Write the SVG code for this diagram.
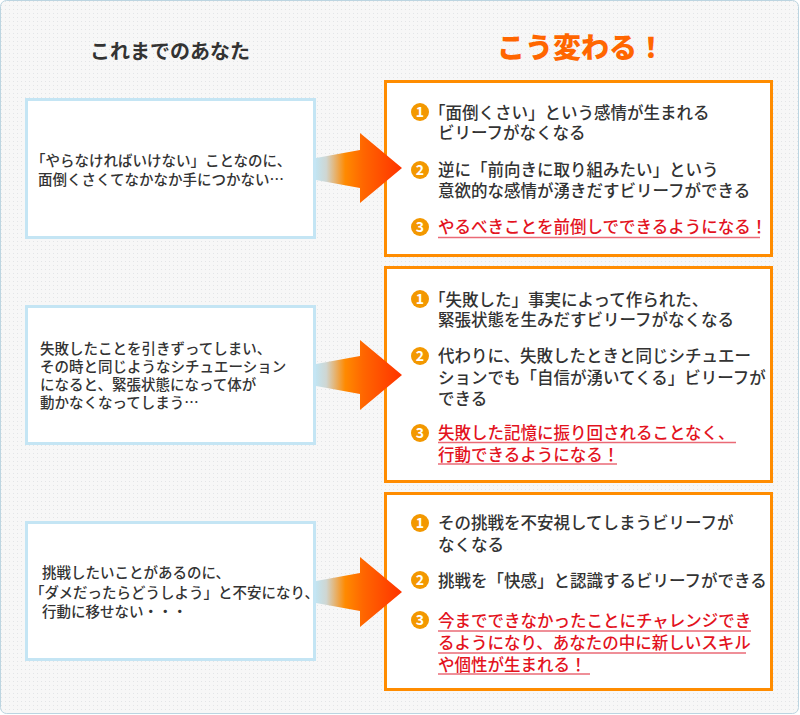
<svg xmlns="http://www.w3.org/2000/svg" width="800" height="715" viewBox="0 0 800 715">
<defs>
<pattern id="dots" width="4" height="4" patternUnits="userSpaceOnUse">
<rect width="4" height="4" fill="#f7f7f7"/>
<rect x="1" y="1" width="1" height="1" fill="#e3e5e7"/>
</pattern>
<linearGradient id="arrowGrad" gradientUnits="objectBoundingBox" x1="0" y1="0" x2="1" y2="0">
<stop offset="0" stop-color="#c2e4f1"/>
<stop offset="0.12" stop-color="#cfd6d2"/>
<stop offset="0.34" stop-color="#ff8a00"/>
<stop offset="0.55" stop-color="#ff6600"/>
<stop offset="1" stop-color="#ff3300"/>
</linearGradient>
</defs>
<style>
text{font-family:"Noto Sans CJK JP","Noto Sans",sans-serif;font-weight:500;}
.lbox{fill:#ffffff;stroke:#c4e5f4;stroke-width:3;}
.rbox{fill:#ffffff;stroke:#ff8c00;stroke-width:3;}
.lt{font-size:14.5px;fill:#333333;}
.rt{font-size:16.5px;fill:#333333;}
.red{font-size:16.5px;fill:#e3131e;}
.ul{stroke:#ea6a76;stroke-width:1.5;}
.num{fill:#f39800;}
.nt{font-size:14px;font-weight:bold;fill:#ffffff;text-anchor:middle;}
.arrow{fill:url(#arrowGrad);}
</style>

<rect x="0.5" y="0.5" width="798" height="713" rx="6" ry="6" fill="url(#dots)" stroke="#bcd5e1" stroke-width="1"/>

<g id="title-left">
<text x="170" y="59" text-anchor="middle" style="font-size:20px;font-weight:bold;fill:#333333;">これまでのあなた</text>
</g>
<g id="title-right">
<text x="581" y="58" text-anchor="middle" style="font-size:28px;font-weight:900;fill:#ff6600;">こう変わる！</text>
</g>

<g id="before-1">
<rect class="lbox" x="26.5" y="99.5" width="288" height="138"/>
<text class="lt" x="31" y="166">「やらなければいけない」ことなのに、</text>
<text class="lt" x="38" y="185">面倒くさくてなかなか手につかない…</text>
</g>

<g id="before-2">
<rect class="lbox" x="26.5" y="306.5" width="288" height="137"/>
<text class="lt" x="40" y="354">失敗したことを引きずってしまい、</text>
<text class="lt" x="40" y="372">その時と同じようなシチュエーション</text>
<text class="lt" x="40" y="390">になると、緊張状態になって体が</text>
<text class="lt" x="40" y="408">動かなくなってしまう…</text>
</g>

<g id="before-3">
<rect class="lbox" x="26.5" y="522.5" width="288" height="137"/>
<text class="lt" x="42" y="578">挑戦したいことがあるのに、</text>
<text class="lt" x="30" y="598">「ダメだったらどうしよう」と不安になり、</text>
<text class="lt" x="42" y="617">行動に移せない・・・</text>
</g>

<g id="after-1">
<rect class="rbox" x="385.5" y="81.5" width="386" height="174"/>
<circle class="num" cx="420" cy="112" r="9"/>
<text class="nt" x="420" y="117">1</text>
<text class="rt" x="429" y="119">「面倒くさい」という感情が生まれる</text>
<text class="rt" x="438" y="139">ビリーフがなくなる</text>
<circle class="num" cx="420" cy="170" r="9"/>
<text class="nt" x="420" y="175">2</text>
<text class="rt" x="438" y="176">逆に「前向きに取り組みたい」という</text>
<text class="rt" x="438" y="197">意欲的な感情が湧きだすビリーフができる</text>
<circle class="num" cx="420" cy="227" r="9"/>
<text class="nt" x="420" y="232">3</text>
<text class="red" x="438" y="233">やるべきことを前倒しでできるようになる！</text>
<line class="ul" x1="438" y1="237.5" x2="760" y2="237.5"/>
</g>

<g id="after-2">
<rect class="rbox" x="385.5" y="267.5" width="386" height="214"/>
<circle class="num" cx="420" cy="299" r="9"/>
<text class="nt" x="420" y="304">1</text>
<text class="rt" x="429" y="306">「失敗した」事実によって作られた、</text>
<text class="rt" x="438" y="326">緊張状態を生みだすビリーフがなくなる</text>
<circle class="num" cx="420" cy="356" r="9"/>
<text class="nt" x="420" y="361">2</text>
<text class="rt" x="438" y="362">代わりに、失敗したときと同じシチュエー</text>
<text class="rt" x="438" y="384">ションでも「自信が湧いてくる」ビリーフが</text>
<text class="rt" x="438" y="405">できる</text>
<circle class="num" cx="420" cy="433" r="9"/>
<text class="nt" x="420" y="438">3</text>
<text class="red" x="438" y="439">失敗した記憶に振り回されることなく、</text>
<line class="ul" x1="438" y1="442.5" x2="736" y2="442.5"/>
<text class="red" x="438" y="461">行動できるようになる！</text>
<line class="ul" x1="438" y1="464" x2="617" y2="464"/>
</g>

<g id="after-3">
<rect class="rbox" x="385.5" y="493.5" width="386" height="196"/>
<circle class="num" cx="420" cy="523" r="9"/>
<text class="nt" x="420" y="528">1</text>
<text class="rt" x="438" y="529">その挑戦を不安視してしまうビリーフが</text>
<text class="rt" x="438" y="551">なくなる</text>
<circle class="num" cx="420" cy="580" r="9"/>
<text class="nt" x="420" y="585">2</text>
<text class="rt" x="438" y="587">挑戦を「快感」と認識するビリーフができる</text>
<circle class="num" cx="420" cy="620" r="9"/>
<text class="nt" x="420" y="625">3</text>
<text class="red" x="438" y="627">今までできなかったことにチャレンジでき</text>
<line class="ul" x1="438" y1="631" x2="751" y2="631"/>
<text class="red" x="438" y="649">るようになり、あなたの中に新しいスキル</text>
<line class="ul" x1="438" y1="653" x2="746" y2="653"/>
<text class="red" x="438" y="671">や個性が生まれる！</text>
<line class="ul" x1="438" y1="674" x2="590" y2="674"/>
</g>

<g id="connectors">
<polygon class="arrow" points="316,158 360,150 360,133 402,168 360,203 360,188 316,180"/>
<polygon class="arrow" points="316,364 360,356 360,340 402,375 360,410 360,394 316,386"/>
<polygon class="arrow" points="316,581 360,573 360,557 402,592 360,627 360,611 316,603"/>
</g>
</svg>
